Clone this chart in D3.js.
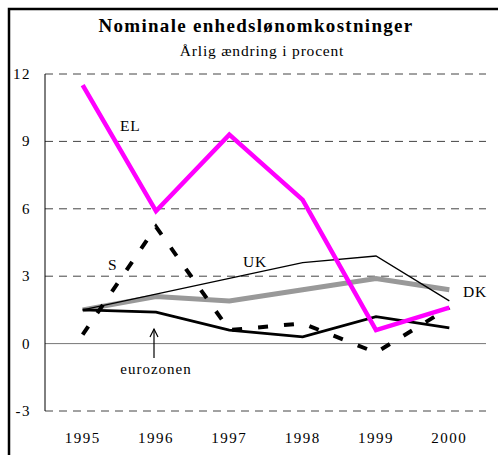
<!DOCTYPE html>
<html>
<head>
<meta charset="utf-8">
<script src="https://cdn.jsdelivr.net/npm/d3@7"></script>
<style>
  body { margin: 0; background: #fff; }
  text { font-family: "Liberation Serif", "DejaVu Serif", serif; fill: #000; }
</style>
</head>
<body>
<svg id="chart"></svg>
<script>
var years = ["1995", "1996", "1997", "1998", "1999", "2000"];
var yTicks = [-3, 0, 3, 6, 9, 12];
var elValues = [11.5, 5.9, 9.3, 6.4, 0.6, 1.6];
var sValues = [0.4, 5.2, 0.6, 0.9, -0.4, 1.6];
var ukValues = [1.5, 2.2, 2.9, 3.6, 3.9, 1.9];
var dkValues = [1.5, 2.1, 1.9, 2.4, 2.9, 2.4];
var euroValues = [1.5, 1.4, 0.6, 0.3, 1.2, 0.7];

function main() {
  var svgWidth = 498;
  var svgHeight = 455;
  var svg = d3.select("#chart").attr("width", svgWidth).attr("height", svgHeight);

  var plotLeft = 45;
  var plotRight = 486;

  var x = d3.scaleBand().domain(years).range([46, 486]);
  var y = d3.scaleLinear().domain([-3, 12]).range([411, 74]);
  var cx = (d) => x(d) + x.bandwidth() / 2;

  // outer frame (top + left only)
  svg.append("path")
    .attr("d", `M9,455 V9 H498`)
    .attr("fill", "none")
    .attr("stroke", "#000")
    .attr("stroke-width", 2.5);

  svg.append("text")
    .attr("x", 256).attr("y", 32)
    .attr("text-anchor", "middle")
    .attr("font-size", 19).attr("font-weight", "bold")
    .attr("letter-spacing", 1.3)
    .text("Nominale enhedslønomkostninger");
  svg.append("text")
    .attr("x", 262).attr("y", 56)
    .attr("text-anchor", "middle")
    .attr("font-size", 15.5)
    .attr("letter-spacing", 0.8)
    .text("Årlig ændring i procent");

  // gridlines
  svg.append("g")
    .selectAll("line")
    .data(yTicks)
    .enter()
    .append("line")
    .attr("x1", plotLeft).attr("x2", plotRight)
    .attr("y1", (d) => y(d)).attr("y2", (d) => y(d))
    .attr("stroke", (d) => d === 0 ? "#777" : "#444")
    .attr("stroke-width", 1)
    .attr("stroke-dasharray", (d) => d === 0 ? null : "8,6");

  // y axis line
  svg.append("line")
    .attr("x1", plotLeft).attr("x2", plotLeft)
    .attr("y1", y(12)).attr("y2", y(-3))
    .attr("stroke", "#000").attr("stroke-width", 1);

  svg.append("g")
    .selectAll("text")
    .data(yTicks)
    .enter()
    .append("text")
    .attr("x", 31).attr("y", (d) => y(d) + 5)
    .attr("text-anchor", "end")
    .attr("font-size", 15)
    .attr("letter-spacing", 1.5)
    .text((d) => d);

  svg.append("g")
    .selectAll("text")
    .data(years)
    .enter()
    .append("text")
    .attr("x", (d) => cx(d)).attr("y", 443)
    .attr("text-anchor", "middle")
    .attr("font-size", 15)
    .attr("letter-spacing", 1.5)
    .text((d) => d);

  var line = d3.line()
    .x((d, i) => cx(years[i]))
    .y((d) => y(d));

  function drawSeries(values, color, width, dash) {
    svg.append("path")
      .datum(values)
      .attr("d", line)
      .attr("fill", "none")
      .attr("stroke", color)
      .attr("stroke-width", width)
      .attr("stroke-dasharray", dash)
      .attr("stroke-linejoin", "miter");
  }

  drawSeries(dkValues, "#999999", 5, null);
  drawSeries(ukValues, "#000", 1.3, null);
  drawSeries(euroValues, "#000", 2.6, null);
  drawSeries(sValues, "#000", 4, "10,16");
  drawSeries(elValues, "#ff00ff", 4.5, null);

  // labels
  var labels = [
    { t: "EL", x: 120, y: 131 },
    { t: "S", x: 108, y: 270 },
    { t: "UK", x: 243, y: 267 },
    { t: "DK", x: 463, y: 297 },
  ];
  svg.append("g")
    .selectAll("text")
    .data(labels)
    .enter()
    .append("text")
    .attr("x", (d) => d.x).attr("y", (d) => d.y)
    .attr("font-size", 15.5)
    .attr("letter-spacing", 0.8)
    .text((d) => d.t);

  // eurozonen arrow
  var ax = 154;
  svg.append("line")
    .attr("x1", ax).attr("x2", ax)
    .attr("y1", 358).attr("y2", 329)
    .attr("stroke", "#000").attr("stroke-width", 1.2);
  svg.append("path")
    .attr("d", `M${ax - 4},${337} L${ax},${329} L${ax + 4},${337}`)
    .attr("fill", "none").attr("stroke", "#000").attr("stroke-width", 1.2);
  svg.append("text")
    .attr("x", 156).attr("y", 374)
    .attr("text-anchor", "middle")
    .attr("font-size", 15)
    .attr("letter-spacing", 1)
    .text("eurozonen");
}
main();
</script>
</body>
</html>
